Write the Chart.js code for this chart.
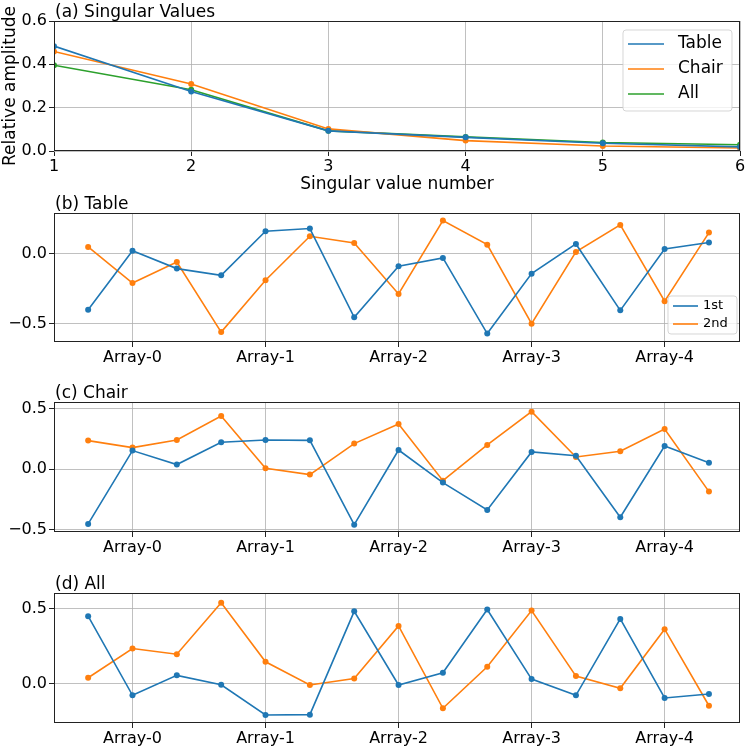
<!DOCTYPE html>
<html>
<head>
<meta charset="utf-8">
<script src="https://cdn.jsdelivr.net/npm/chart.js@4"></script>
<style>
  body { margin: 0; background: #fff; }
  #wrap { position: relative; width: 747px; height: 747px; }
  canvas { position: absolute; left: 0; }
</style>
</head>
<body>
<div id="wrap">
  <canvas id="sv" width="747" height="195" style="top:0px"></canvas>
  <canvas id="table" width="747" height="175" style="top:195px"></canvas>
  <canvas id="chair" width="747" height="190" style="top:370px"></canvas>
  <canvas id="all" width="747" height="187" style="top:560px"></canvas>
</div>
<script>
// singular values
var svIndex = [1, 2, 3, 4, 5, 6];
var svTable = [0.484, 0.275, 0.093, 0.063, 0.036, 0.019];
var svChair = [0.459, 0.309, 0.102, 0.048, 0.023, 0.014];
var svAll   = [0.396, 0.283, 0.093, 0.065, 0.039, 0.029];
var svYTicks = [0.0, 0.2, 0.4, 0.6];

// singular vectors, 15 components each
var arrayLabels = ['Array-0', 'Array-1', 'Array-2', 'Array-3', 'Array-4'];
var arrayTickPos = [1, 4, 7, 10, 13];
var tableFirst  = [-0.400, 0.021, -0.107, -0.155, 0.160, 0.179, -0.455, -0.090, -0.031, -0.571, -0.143, 0.069, -0.405, 0.033, 0.079];
var tableSecond = [0.048, -0.210, -0.060, -0.560, -0.190, 0.124, 0.076, -0.288, 0.236, 0.064, -0.500, 0.012, 0.205, -0.340, 0.150];
var chairFirst  = [-0.453, 0.155, 0.039, 0.224, 0.243, 0.240, -0.459, 0.160, -0.110, -0.337, 0.144, 0.113, -0.398, 0.193, 0.055];
var chairSecond = [0.238, 0.180, 0.243, 0.442, 0.008, -0.044, 0.213, 0.376, -0.094, 0.202, 0.478, 0.102, 0.149, 0.334, -0.185];
var allFirst    = [0.451, -0.080, 0.054, -0.009, -0.212, -0.210, 0.484, -0.011, 0.071, 0.496, 0.029, -0.080, 0.433, -0.098, -0.071];
var allSecond   = [0.038, 0.234, 0.196, 0.542, 0.145, -0.011, 0.033, 0.386, -0.167, 0.112, 0.489, 0.049, -0.033, 0.364, -0.150];

var BLUE = '#1f77b4', ORANGE = '#ff7f0e', GREEN = '#2ca02c';
Chart.defaults.font.family = "'DejaVu Sans'";
Chart.defaults.color = '#000';

function fmt(v) { return v.toFixed(1).replace('-', '\u2212'); }

function series(label, xs, ys, color) {
  return {
    label: label,
    data: ys.map(function (y, i) { return { x: xs[i], y: y }; }),
    borderColor: color,
    backgroundColor: color,
    borderWidth: 1.6,
    pointRadius: 3,
    pointHoverRadius: 3,
    pointBorderWidth: 0,
    tension: 0,
    clip: 0
  };
}

// frame, panel title and legend box, matplotlib style
var panelPlugin = {
  id: 'panel',
  afterDraw: function (chart) {
    var o = chart.options.plugins.panel;
    var a = chart.chartArea, ctx = chart.ctx;
    ctx.save();
    ctx.strokeStyle = '#222';
    ctx.lineWidth = 1;
    ctx.strokeRect(Math.round(a.left) + 0.5, Math.round(a.top) + 0.5,
      Math.round(a.right - a.left) - 1, Math.round(a.bottom - a.top) - 1);
    ctx.fillStyle = '#000';
    ctx.font = '17px "DejaVu Sans"';
    ctx.textBaseline = 'alphabetic';
    ctx.textAlign = 'left';
    ctx.fillText(o.title, a.left + 1, a.top - 4.5);
    if (o.legend) {
      var L = o.legend;
      ctx.beginPath();
      ctx.roundRect(L.x, L.y, L.w, L.h, 3);
      ctx.fillStyle = 'rgba(255,255,255,0.8)';
      ctx.fill();
      ctx.strokeStyle = 'rgba(204,204,204,0.8)';
      ctx.lineWidth = 1;
      ctx.stroke();
      ctx.font = L.size + 'px "DejaVu Sans"';
      ctx.textBaseline = 'middle';
      chart.data.datasets.forEach(function (ds, i) {
        var y = L.y + L.first + i * L.step;
        ctx.strokeStyle = ds.borderColor;
        ctx.lineWidth = 1.6;
        ctx.beginPath();
        ctx.moveTo(L.x + 5, y);
        ctx.lineTo(L.x + 5 + L.line, y);
        ctx.stroke();
        ctx.fillStyle = '#000';
        ctx.fillText(ds.label, L.x + L.textX, y);
      });
    }
    ctx.restore();
  }
};

function makeChart(id, o) {
  return new Chart(document.getElementById(id), {
    type: 'line',
    data: { datasets: o.datasets },
    plugins: [panelPlugin],
    options: {
      responsive: false,
      animation: false,
      events: [],
      layout: { padding: { top: o.padTop, right: 7, left: 0, bottom: 0 } },
      plugins: {
        legend: { display: false },
        tooltip: { enabled: false },
        panel: { title: o.title, legend: o.legend }
      },
      scales: {
        x: {
          type: 'linear',
          min: o.xMin, max: o.xMax,
          afterBuildTicks: function (s) { s.ticks = o.xTicks.map(function (v) { return { value: v }; }); },
          afterFit: function (s) { s.height = o.xHeight; },
          ticks: {
            autoSkip: false, maxRotation: 0, padding: 1,
            font: { size: 16 },
            callback: o.xLabel
          },
          grid: { color: '#b0b0b0', lineWidth: 0.8, tickLength: 5, tickColor: '#222', tickWidth: 1 },
          border: { display: false },
          title: o.xTitle ? { display: true, text: o.xTitle, font: { size: 17 }, padding: 0 } : { display: false }
        },
        y: {
          min: o.yMin, max: o.yMax,
          afterBuildTicks: function (s) { s.ticks = o.yTicks.map(function (v) { return { value: v }; }); },
          afterFit: function (s) { s.width = 54; },
          ticks: { padding: 2, font: { size: 16 }, callback: function (v) { return fmt(v); } },
          grid: { color: '#b0b0b0', lineWidth: 0.8, tickLength: 5, tickColor: '#222', tickWidth: 1 },
          border: { display: false },
          title: o.yTitle ? { display: true, text: o.yTitle, font: { size: 17 }, padding: 0 } : { display: false }
        }
      }
    }
  });
}

function arrayLabel(v) {
  var i = arrayTickPos.indexOf(v);
  return i < 0 ? '' : arrayLabels[i];
}
var idx = tableFirst.map(function (_, i) { return i; });

makeChart('sv', {
  title: '(a) Singular Values',
  padTop: 21, xHeight: 44,
  xMin: 1, xMax: 6, xTicks: svIndex, xLabel: function (v) { return String(v); },
  yMin: 0, yMax: 0.6, yTicks: svYTicks,
  xTitle: 'Singular value number', yTitle: 'Relative amplitude',
  datasets: [
    series('Table', svIndex, svTable, BLUE),
    series('Chair', svIndex, svChair, ORANGE),
    series('All', svIndex, svAll, GREEN)
  ],
  legend: { x: 623, y: 30, w: 109, h: 81, first: 14, step: 25, line: 36, textX: 55, size: 17 }
});

makeChart('table', {
  title: '(b) Table',
  padTop: 18, xHeight: 28,
  xMin: -0.77, xMax: 14.7, xTicks: arrayTickPos, xLabel: arrayLabel,
  yMin: -0.631, yMax: 0.29, yTicks: [-0.5, 0.0],
  datasets: [
    series('1st', idx, tableFirst, BLUE),
    series('2nd', idx, tableSecond, ORANGE)
  ],
  legend: { x: 668, y: 101, w: 69, h: 38, first: 10, step: 18, line: 25, textX: 35, size: 13 }
});

makeChart('chair', {
  title: '(c) Chair',
  padTop: 32, xHeight: 28,
  xMin: -0.77, xMax: 14.7, xTicks: arrayTickPos, xLabel: arrayLabel,
  yMin: -0.52, yMax: 0.558, yTicks: [-0.5, 0.0, 0.5],
  datasets: [
    series('1st', idx, chairFirst, BLUE),
    series('2nd', idx, chairSecond, ORANGE)
  ]
});

makeChart('all', {
  title: '(d) All',
  padTop: 33, xHeight: 24,
  xMin: -0.77, xMax: 14.7, xTicks: arrayTickPos, xLabel: arrayLabel,
  yMin: -0.266, yMax: 0.607, yTicks: [0.0, 0.5],
  datasets: [
    series('1st', idx, allFirst, BLUE),
    series('2nd', idx, allSecond, ORANGE)
  ]
});
</script>
</body>
</html>
